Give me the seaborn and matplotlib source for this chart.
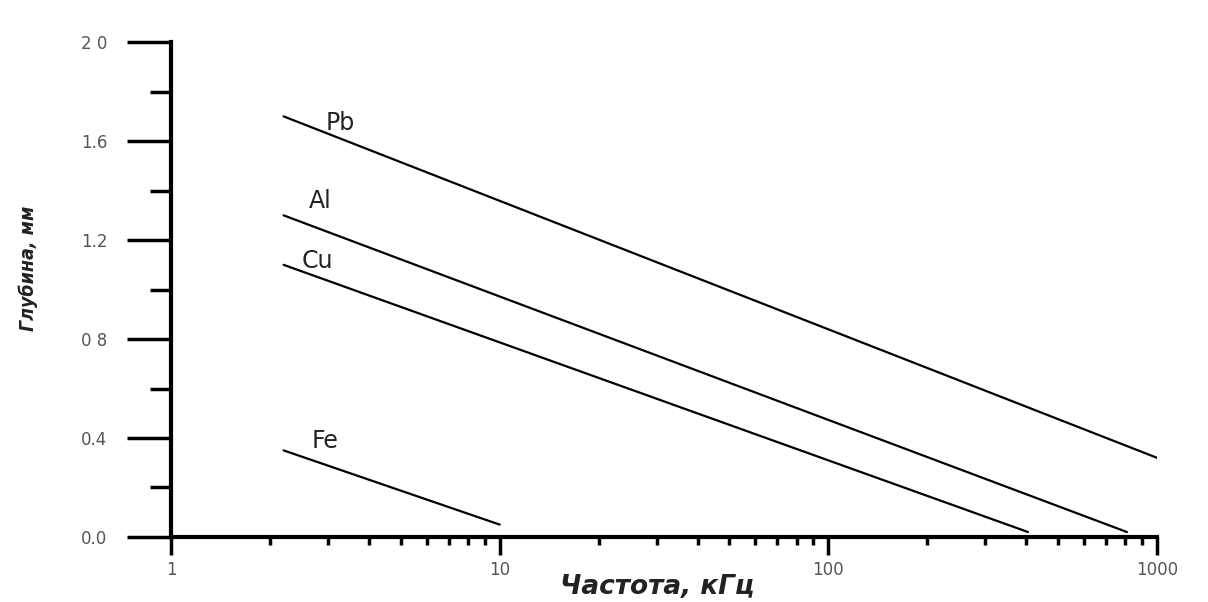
import matplotlib
matplotlib.use("Agg")
import matplotlib.pyplot as plt
import numpy as np
import pandas as pd
import seaborn as sns
from matplotlib.ticker import FixedLocator, NullFormatter

sns.set_theme(style="white")
plt.rcParams["font.family"] = ["DejaVu Sans"]

# глубина проникновения вихревых токов
metals = ["Pb", "Al", "Cu", "Fe"]
freq_start = [2.2, 2.2, 2.2, 2.2]
freq_end = [1000, 810, 405, 10]
depth_start = [1.70, 1.30, 1.10, 0.35]
depth_end = [0.32, 0.02, 0.02, 0.05]
label_pos_x = [2.95, 2.62, 2.5, 2.68]
label_pos_y = [1.625, 1.31, 1.065, 0.34]

y_major = [0.0, 0.4, 0.8, 1.2, 1.6, 2.0]
y_labels = ["0.0", "0.4", "0 8", "1.2", "1.6", "2 0"]
x_major = [1, 10, 100, 1000]
x_labels = ["1", "10", "100", "1000"]

rows = []
for m, f0, f1, d0, d1 in zip(metals, freq_start, freq_end, depth_start, depth_end):
    rows.append({"metal": m, "freq": f0, "depth": d0})
    rows.append({"metal": m, "freq": f1, "depth": d1})
df = pd.DataFrame(rows)

fig = plt.figure(figsize=(12.08, 6.02), dpi=100)
ax = fig.add_axes([0.1416, 0.108, 0.8162, 0.822])

sns.lineplot(data=df, x="freq", y="depth", units="metal", estimator=None,
             color="black", linewidth=1.6, ax=ax, legend=False)

ax.set_xscale("log")
ax.set_xlim(1, 1000)
ax.set_ylim(0, 2.0)

for m, lx, ly in zip(metals, label_pos_x, label_pos_y):
    ax.text(lx, ly, m, fontsize=17, color="#222222", va="bottom", ha="left")

for s in ["top", "right"]:
    ax.spines[s].set_visible(False)
for s in ["left", "bottom"]:
    ax.spines[s].set_color("black")
    ax.spines[s].set_linewidth(3)

ax.yaxis.set_major_locator(FixedLocator(y_major))
ax.set_yticklabels(y_labels)
ax.yaxis.set_minor_locator(FixedLocator([0.2, 0.6, 1.0, 1.4, 1.8]))
ax.xaxis.set_major_locator(FixedLocator(x_major))
ax.set_xticklabels(x_labels)
minor_x = [k * 10 ** e for e in range(0, 3) for k in range(2, 10)]
ax.xaxis.set_minor_locator(FixedLocator(minor_x))
ax.xaxis.set_minor_formatter(NullFormatter())

ax.tick_params(axis="y", which="major", direction="out", length=32, width=2.5,
               color="black", labelsize=12, labelcolor="#555555", pad=14, left=True)
ax.tick_params(axis="y", which="minor", direction="out", length=15, width=2.5,
               color="black", left=True)
ax.tick_params(axis="x", which="major", direction="out", length=13, width=2.5,
               color="black", labelsize=12, labelcolor="#555555", pad=4, bottom=True)
ax.tick_params(axis="x", which="minor", direction="out", length=6, width=2.5,
               color="black", bottom=True)

ax.set_xlabel("Частота, кГц", fontsize=19, fontweight="bold", fontstyle="italic",
              color="#222222")
ax.xaxis.set_label_coords(0.493, -0.074)
ax.set_ylabel("Глубина, мм", fontsize=14, fontweight="bold", fontstyle="italic",
              fontstretch="condensed", color="#222222")
ax.yaxis.set_label_coords(-0.135, 0.543)
ax.grid(False)

fig.savefig("out.png", dpi=100)
